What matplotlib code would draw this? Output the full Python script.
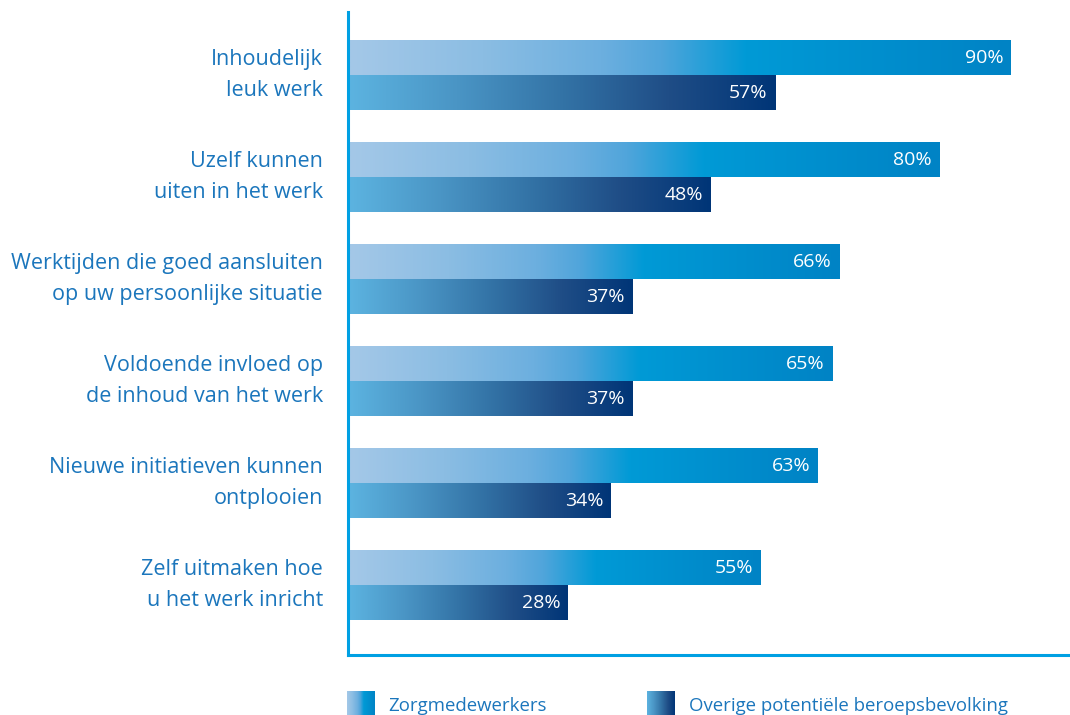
import numpy as np
import matplotlib
matplotlib.use("Agg")
import matplotlib.pyplot as plt
from matplotlib.colors import LinearSegmentedColormap

categories = [
    "Inhoudelijk\nleuk werk",
    "Uzelf kunnen\nuiten in het werk",
    "Werktijden die goed aansluiten\nop uw persoonlijke situatie",
    "Voldoende invloed op\nde inhoud van het werk",
    "Nieuwe initiatieven kunnen\nontplooien",
    "Zelf uitmaken hoe\nu het werk inricht",
]
zorg = [90, 80, 66, 65, 63, 55]
overig = [57, 48, 37, 37, 34, 28]
series_names = ["Zorgmedewerkers", "Overige potentiële beroepsbevolking"]

plt.rcParams['font.family'] = ['Open Sans', 'DejaVu Sans']

TXT = '#1b76bc'
SPINE = '#00a0e3'
cmap1 = LinearSegmentedColormap.from_list('c1', [(0, '#a4c8e8'), (0.2, '#8bbde3'), (0.38, '#6cafdf'),
                                                 (0.47, '#50a5db'), (0.6, '#009ad6'), (1, '#0083c5')])
cmap2 = LinearSegmentedColormap.from_list('c2', [(0, '#5cb3e0'), (0.25, '#4a95c5'), (0.5, '#3373a6'),
                                                 (0.75, '#1f4d86'), (1, '#003577')])
grad = np.linspace(0, 1, 256).reshape(1, -1)

fig = plt.figure(figsize=(10.7, 7.15), dpi=100)
ax = fig.add_axes([348/1070, 60/715, 722/1070, 643/715])

y = np.arange(len(categories))
h = 0.343
start = -2.5

bars1 = ax.barh(y - h/2, np.array(zorg) - start, left=start, height=h, color='none', linewidth=0)
bars2 = ax.barh(y + h/2, np.array(overig) - start, left=start, height=h, color='none', linewidth=0)

for bars, cmap, vals in ((bars1, cmap1, zorg), (bars2, cmap2, overig)):
    for p, v in zip(bars.patches, vals):
        x0, y0, w, hh = p.get_x(), p.get_y(), p.get_width(), p.get_height()
        im = ax.imshow(grad, extent=[x0, x0 + w, y0, y0 + hh], cmap=cmap,
                       aspect='auto', interpolation='bilinear', zorder=2)
        im.set_clip_path(p)
        ax.annotate(f"{v}%", xy=(v, y0 + hh/2), xytext=(-5.5, 0), textcoords='offset points',
                    ha='right', va='center', color='white', fontsize=14, zorder=3)

ax.set_xlim(-2.8, 98.25)
ax.set_ylim(5.686, -0.618)
ax.set_yticks([])
ax.set_xticks([])
for yi, cat in zip(y, categories):
    ax.annotate(cat, xy=(0, yi), xycoords=('axes fraction', 'data'), xytext=(-18, 0),
                textcoords='offset points', ha='right', va='center', color=TXT,
                fontsize=15.5, linespacing=1.6, annotation_clip=False)
for s in ('top', 'right'):
    ax.spines[s].set_visible(False)
for s in ('left', 'bottom'):
    ax.spines[s].set_color(SPINE)
    ax.spines[s].set_linewidth(2.2)

# legend
for i, (cmap, name, lx, tx) in enumerate(((cmap1, series_names[0], 347, 388),
                                           (cmap2, series_names[1], 647, 689))):
    lax = fig.add_axes([lx/1070, 0, 28/1070, 24/715])
    lax.imshow(grad, cmap=cmap, vmin=0, vmax=1, aspect='auto', interpolation='bilinear')
    lax.axis('off')
    fig.text(tx/1070, 9/715, name, ha='left', va='center', color=TXT, fontsize=13.4)

fig.savefig('out.png', dpi=100)
